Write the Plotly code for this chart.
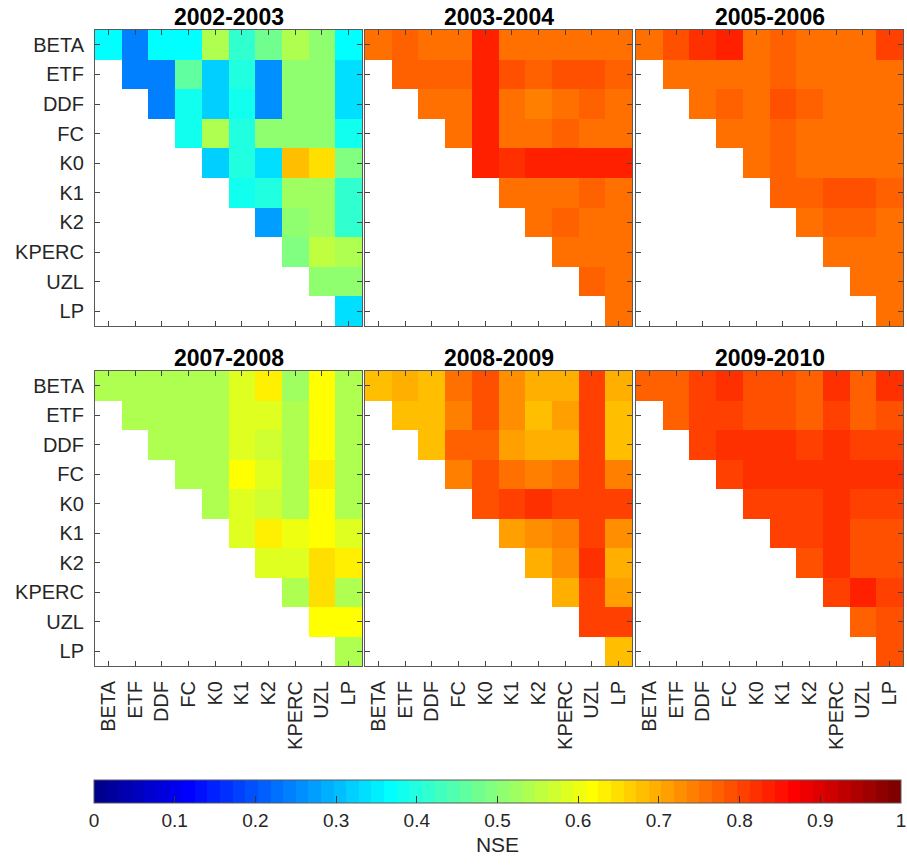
import plotly.graph_objects as go

# Parameter names (rows top-to-bottom, columns left-to-right)
params = ["BETA", "ETF", "DDF", "FC", "K0", "K1", "K2", "KPERC", "UZL", "LP"]
periods = ["2002-2003", "2003-2004", "2005-2006", "2007-2008", "2008-2009", "2009-2010"]

# NSE for each parameter pair, upper triangle (row i holds columns i..9)
nse_2002_2003 = [
    [0.36, 0.235, 0.37, 0.37, 0.54, 0.41, 0.47, 0.54, 0.51, 0.36],
    [0.235, 0.235, 0.455, 0.32, 0.395, 0.26, 0.50, 0.51, 0.34],
    [0.235, 0.375, 0.32, 0.38, 0.26, 0.50, 0.50, 0.33],
    [0.375, 0.54, 0.40, 0.515, 0.515, 0.515, 0.375],
    [0.32, 0.395, 0.335, 0.685, 0.655, 0.49],
    [0.375, 0.395, 0.52, 0.52, 0.41],
    [0.27, 0.51, 0.52, 0.41],
    [0.49, 0.555, 0.54],
    [0.51, 0.51],
    [0.33],
]
nse_2003_2004 = [
    [0.755, 0.775, 0.755, 0.755, 0.835, 0.765, 0.765, 0.765, 0.765, 0.755],
    [0.78, 0.78, 0.78, 0.835, 0.785, 0.77, 0.79, 0.79, 0.78],
    [0.75, 0.76, 0.835, 0.76, 0.745, 0.76, 0.78, 0.75],
    [0.76, 0.835, 0.765, 0.765, 0.78, 0.765, 0.755],
    [0.835, 0.825, 0.835, 0.835, 0.835, 0.835],
    [0.765, 0.765, 0.765, 0.78, 0.765],
    [0.75, 0.78, 0.765, 0.765],
    [0.765, 0.765, 0.765],
    [0.78, 0.765],
    [0.755],
]
nse_2005_2006 = [
    [0.755, 0.785, 0.825, 0.835, 0.755, 0.77, 0.76, 0.755, 0.755, 0.80],
    [0.75, 0.755, 0.75, 0.75, 0.77, 0.755, 0.755, 0.755, 0.755],
    [0.755, 0.78, 0.755, 0.785, 0.78, 0.765, 0.765, 0.765],
    [0.75, 0.76, 0.78, 0.755, 0.755, 0.755, 0.755],
    [0.75, 0.78, 0.755, 0.755, 0.755, 0.755],
    [0.78, 0.78, 0.795, 0.795, 0.78],
    [0.76, 0.77, 0.77, 0.76],
    [0.76, 0.76, 0.76],
    [0.765, 0.765],
    [0.755],
]
nse_2007_2008 = [
    [0.545, 0.545, 0.545, 0.545, 0.545, 0.585, 0.64, 0.53, 0.61, 0.54],
    [0.535, 0.545, 0.545, 0.545, 0.585, 0.58, 0.535, 0.61, 0.54],
    [0.545, 0.545, 0.545, 0.585, 0.575, 0.535, 0.615, 0.54],
    [0.545, 0.545, 0.61, 0.58, 0.535, 0.63, 0.54],
    [0.535, 0.58, 0.575, 0.535, 0.615, 0.54],
    [0.58, 0.64, 0.60, 0.615, 0.59],
    [0.58, 0.58, 0.655, 0.635],
    [0.54, 0.65, 0.54],
    [0.62, 0.62],
    [0.54],
]
nse_2008_2009 = [
    [0.68, 0.69, 0.675, 0.75, 0.795, 0.72, 0.70, 0.70, 0.80, 0.69],
    [0.675, 0.685, 0.745, 0.795, 0.72, 0.685, 0.705, 0.80, 0.685],
    [0.675, 0.78, 0.78, 0.715, 0.70, 0.70, 0.805, 0.685],
    [0.745, 0.795, 0.75, 0.74, 0.75, 0.805, 0.74],
    [0.795, 0.805, 0.815, 0.80, 0.80, 0.80],
    [0.71, 0.725, 0.735, 0.80, 0.72],
    [0.695, 0.72, 0.815, 0.69],
    [0.69, 0.80, 0.715],
    [0.80, 0.80],
    [0.675],
]
nse_2009_2010 = [
    [0.78, 0.78, 0.805, 0.82, 0.795, 0.795, 0.78, 0.815, 0.78, 0.82],
    [0.78, 0.805, 0.81, 0.79, 0.79, 0.78, 0.81, 0.78, 0.785],
    [0.805, 0.815, 0.815, 0.815, 0.80, 0.82, 0.805, 0.80],
    [0.805, 0.815, 0.815, 0.815, 0.82, 0.815, 0.815],
    [0.80, 0.805, 0.805, 0.815, 0.805, 0.805],
    [0.80, 0.80, 0.815, 0.795, 0.795],
    [0.79, 0.815, 0.785, 0.795],
    [0.81, 0.83, 0.81],
    [0.78, 0.795],
    [0.795],
]
panels = [nse_2002_2003, nse_2003_2004, nse_2005_2006,
          nse_2007_2008, nse_2008_2009, nse_2009_2010]

# colorbar tick labels
cbar_labels = ["0", "0.1", "0.2", "0.3", "0.4", "0.5", "0.6", "0.7", "0.8", "0.9", "1"]


def full_matrix(tri):
    n = len(params)
    return [[None] * i + list(tri[i]) for i in range(n)]


def jet64():
    # 64-level jet colormap as a stepped colorscale on [0, 1]
    scale = []
    for k in range(1, 65):
        r = max(0.0, min((k - 24) / 16, 1.0, (72 - k) / 16))
        g = max(0.0, min((k - 8) / 16, 1.0, (56 - k) / 16))
        b = max(0.0, min((k + 8) / 16, 1.0, (40 - k) / 16))
        c = f"rgb({round(r*255)},{round(g*255)},{round(b*255)})"
        scale.append([(k - 1) / 64, c])
        scale.append([k / 64, c])
    return scale


W, H = 907, 865
# panel boxes in pixels: (left, right) and (top, bottom)
xs_px = [(95, 362), (365, 632), (636, 903)]
ys_px = [(30, 326), (371, 666)]
cb_left, cb_right = 94, 901

FONT = "Liberation Sans, Arial, Helvetica, sans-serif"
AXC = "#5a5a5a"
TXT = "#262626"

fig = go.Figure()
idx = 0
for r in range(2):
    for c in range(3):
        idx += 1
        xa = "x" if idx == 1 else f"x{idx}"
        ya = "y" if idx == 1 else f"y{idx}"
        fig.add_trace(go.Heatmap(
            z=full_matrix(panels[idx - 1]),
            x=list(range(10)), y=list(range(10)),
            coloraxis="coloraxis", xaxis=xa, yaxis=ya,
            hoverongaps=False, xgap=0, ygap=0,
        ))
        x0, x1 = xs_px[c]
        y0, y1 = ys_px[r]
        common = dict(
            showgrid=False, zeroline=False, showline=True, mirror="ticks",
            linecolor=AXC, linewidth=1, ticks="inside", ticklen=5,
            tickcolor="#444", tickwidth=1,
            tickvals=list(range(10)), ticktext=params,
            tickfont=dict(family=FONT, size=20, color=TXT),
        )
        fig.layout[f"xaxis{idx}"] = dict(
            common, domain=[x0 / W, x1 / W], range=[-0.5, 9.5],
            anchor=ya, tickangle=-90, showticklabels=(r == 1),
            ticklabelstandoff=6,
        )
        fig.layout[f"yaxis{idx}"] = dict(
            common, domain=[1 - y1 / H, 1 - y0 / H], range=[9.5, -0.5],
            anchor=xa, showticklabels=(c == 0), ticklabelstandoff=6,
        )
        fig.add_annotation(
            text=f"<b>{periods[idx - 1]}</b>", xref="paper", yref="paper",
            x=(x0 + x1) / 2 / W, y=1 - (y0 - 13) / H, yanchor="middle",
            xanchor="center", showarrow=False,
            font=dict(family=FONT, size=23, color="black"),
        )

fig.update_layout(
    width=W, height=H, margin=dict(l=0, r=0, t=0, b=0),
    paper_bgcolor="white", plot_bgcolor="white",
    coloraxis=dict(
        colorscale=jet64(), cmin=0, cmax=1,
        colorbar=dict(
            orientation="h", x=(cb_left + cb_right) / 2 / W, xanchor="center",
            len=(cb_right - cb_left) / W, lenmode="fraction",
            y=1 - 780 / H, yanchor="top", thickness=23, thicknessmode="pixels",
            xpad=0, ypad=0, outlinewidth=1, outlinecolor=AXC,
            ticks="inside", ticklen=7, tickcolor="#333",
            tickvals=[0, 0.1, 0.2, 0.3, 0.4, 0.5, 0.6, 0.7, 0.8, 0.9, 1.0],
            ticktext=cbar_labels, ticklabeloverflow="allow",
            tickfont=dict(family=FONT, size=19, color=TXT),
            title=dict(text="NSE", side="bottom",
                       font=dict(family=FONT, size=21, color=TXT)),
        ),
    ),
    showlegend=False,
)

fig.write_html("out.html")
